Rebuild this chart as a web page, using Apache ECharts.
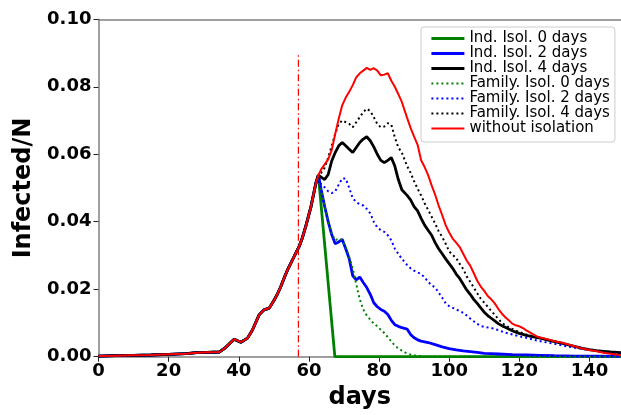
<!DOCTYPE html>
<html>
<head>
<meta charset="utf-8">
<script src="https://cdn.jsdelivr.net/npm/echarts@6/dist/echarts.min.js"></script>
<style>
  html, body { margin: 0; padding: 0; background: #fff; }
  #chart { width: 621px; height: 415px; }
</style>
</head>
<body>
<div id="chart"></div>
<script>
// Epidemic growth shared by every scenario until isolation takes effect (day, infected/N)
const sharedRise = [
  [0, 0.0002], [5, 0.0003], [10, 0.0004], [15, 0.0005], [20, 0.0007], [25, 0.0009],
  [28, 0.0012], [31, 0.0013], [34.5, 0.0014], [36, 0.0025], [37.7, 0.0042], [38.7, 0.0052],
  [40.6, 0.0043], [42.5, 0.0055], [43.9, 0.0079], [45, 0.0105], [45.8, 0.0124], [47.2, 0.0139],
  [48.7, 0.0144], [50.1, 0.0168], [51, 0.0185], [52, 0.0208], [53, 0.0235], [53.9, 0.0257],
  [55, 0.028], [55.8, 0.0297], [57.2, 0.0326], [58, 0.0348], [59.1, 0.0386], [60.6, 0.0445],
  [62, 0.0515], [62.7, 0.0538]
];

// Individual isolation after 0 days
const indIsol0 = [[67.4, 0], [149, 0]];

// Individual isolation after 2 days
const indIsol2 = [
  [63.5, 0.0495], [64.5, 0.0445], [65.5, 0.040], [66.5, 0.0362], [67.5, 0.0335], [68.5, 0.034],
  [69.5, 0.0348], [70.5, 0.032], [71.5, 0.029], [72.5, 0.024], [73.5, 0.0228], [74.5, 0.0236],
  [75.5, 0.022], [76.5, 0.0205], [77.5, 0.0185], [78.5, 0.016], [79.5, 0.0148], [80.5, 0.014],
  [81.5, 0.0135], [82.5, 0.0125], [83.5, 0.0108], [84.5, 0.0095], [85.5, 0.009], [86.5, 0.0086],
  [88, 0.0082], [89, 0.0066], [90, 0.0056], [91, 0.005], [92, 0.0046], [94, 0.0042], [96, 0.0036],
  [98, 0.0029], [100, 0.0024], [102, 0.002], [104, 0.0017], [106, 0.0015], [108, 0.0013],
  [110, 0.001], [112, 0.0009], [114, 0.0008], [118, 0.0006], [122, 0.0005], [126, 0.0004],
  [130, 0.0003], [136, 0.0002], [142, 0.0002], [149, 0.0001]
];

// Individual isolation after 4 days
const indIsol4 = [
  [63.5, 0.0532], [64.5, 0.0525], [65.5, 0.054], [66.5, 0.058], [67.5, 0.0605], [68.5, 0.0625],
  [69.5, 0.0635], [70.5, 0.0625], [71.5, 0.0615], [72.5, 0.0605], [73.5, 0.062], [74.5, 0.0635],
  [75.5, 0.0645], [76.5, 0.0652], [77.5, 0.064], [78.5, 0.0622], [79.5, 0.06], [80.5, 0.0582],
  [81.5, 0.0575], [82.5, 0.0582], [83.5, 0.059], [84.5, 0.0565], [85.5, 0.0525], [86.5, 0.0495],
  [88, 0.0478], [89, 0.0465], [90, 0.0445], [91, 0.0432], [92, 0.041], [93, 0.039], [94, 0.0375],
  [95, 0.036], [96, 0.0338], [97, 0.032], [98, 0.0305], [99, 0.029], [100, 0.0276], [101, 0.0262],
  [102, 0.0245], [103, 0.0232], [104, 0.0215], [105, 0.0198], [106, 0.0185], [107, 0.017],
  [108, 0.0158], [109, 0.0145], [110, 0.0132], [111, 0.0122], [112, 0.0114], [113, 0.0106],
  [114, 0.0098], [115, 0.0092], [116, 0.0087], [117, 0.0082], [118, 0.0077], [119, 0.0073],
  [120, 0.0069], [122, 0.0063], [124, 0.0059], [126, 0.0055], [128, 0.005], [130, 0.0045],
  [132, 0.004], [134, 0.0035], [136, 0.003], [138, 0.0025], [140, 0.0021], [142, 0.0018],
  [144, 0.0016], [146, 0.0014], [149, 0.0012]
];

// Family isolation after 0 days
const famIsol0 = [
  [63.5, 0.0495], [64.5, 0.0445], [65.5, 0.040], [66.5, 0.0365], [67.5, 0.0345], [68.5, 0.035],
  [69.5, 0.0346], [70.5, 0.0325], [71.5, 0.0295], [72.5, 0.0262], [73.5, 0.0215], [74.5, 0.017],
  [75.5, 0.014], [76.5, 0.0122], [77.5, 0.011], [78.5, 0.0098], [79.5, 0.009], [80.5, 0.008],
  [81.5, 0.007], [82.5, 0.0058], [83.5, 0.0045], [84.5, 0.0033], [85.5, 0.0025], [86.5, 0.0018],
  [87.5, 0.0012], [88.5, 0.0008], [89.5, 0.0005], [90.5, 0.0003], [92, 0.0001], [93, 0], [149, 0]
];

// Family isolation after 2 days
const famIsol2 = [
  [63.5, 0.051], [64.5, 0.0502], [65.5, 0.049], [66.5, 0.0485], [67.5, 0.049], [68.5, 0.051],
  [69.5, 0.0528], [70.5, 0.0528], [71.5, 0.050], [72.5, 0.047], [73.5, 0.0458], [74.5, 0.0452],
  [75.5, 0.0448], [76.5, 0.0438], [77.5, 0.0425], [78.5, 0.040], [79.5, 0.0383], [80.5, 0.0375],
  [81.5, 0.037], [82.5, 0.036], [83.5, 0.0345], [84.5, 0.032], [85.5, 0.0305], [86.5, 0.029],
  [88, 0.0272], [89, 0.0262], [90, 0.0255], [91, 0.025], [92, 0.0245], [93, 0.0235], [94, 0.0222],
  [95, 0.0212], [96, 0.0205], [97, 0.019], [98, 0.0175], [99, 0.0158], [100, 0.015], [101, 0.0145],
  [102, 0.014], [103, 0.0135], [104, 0.013], [105, 0.0122], [106, 0.0113], [107, 0.0105],
  [108, 0.0097], [109, 0.0091], [110, 0.0088], [112, 0.0085], [114, 0.0079], [116, 0.0071],
  [118, 0.0066], [120, 0.006], [122, 0.0056], [125, 0.0048], [128, 0.0042], [130, 0.0038],
  [132, 0.0034], [135, 0.0028], [138, 0.0023], [140, 0.002], [143, 0.0015], [146, 0.0011],
  [149, 0.0009]
];

// Family isolation after 4 days
const famIsol4 = [
  [63.5, 0.0545], [64.5, 0.056], [65.5, 0.059], [66.5, 0.0625], [67.5, 0.066], [68.5, 0.069],
  [69.5, 0.070], [70.5, 0.0695], [71.5, 0.069], [72.5, 0.068], [73.5, 0.0695], [74.5, 0.071],
  [75.5, 0.0725], [76.5, 0.0735], [77.5, 0.0728], [78.5, 0.071], [79.5, 0.069], [80.5, 0.068],
  [81.5, 0.0682], [82.5, 0.0692], [83.5, 0.0688], [84.5, 0.065], [85.5, 0.062], [86.5, 0.0605],
  [88, 0.0565], [89, 0.0545], [90, 0.052], [91, 0.0498], [92, 0.0478], [93, 0.0455], [94, 0.0435],
  [95, 0.0415], [96, 0.0395], [97, 0.0372], [98, 0.0355], [99, 0.0335], [100, 0.0312],
  [101, 0.0302], [102, 0.0292], [103, 0.0275], [104, 0.026], [105, 0.0238], [106, 0.0222],
  [107, 0.0205], [108, 0.0188], [109, 0.0172], [110, 0.016], [111, 0.0148], [112, 0.0136],
  [113, 0.0124], [114, 0.0112], [115, 0.0101], [116, 0.0093], [117, 0.0087], [118, 0.0082],
  [120, 0.0073], [122, 0.0066], [124, 0.006], [126, 0.0055], [128, 0.005], [130, 0.0045],
  [132, 0.004], [134, 0.0035], [136, 0.003], [138, 0.0024], [140, 0.002], [142, 0.0016],
  [144, 0.0013], [146, 0.0011], [149, 0.0009]
];

// No isolation at all
const noIsol = [
  [63.5, 0.0555], [64.5, 0.057], [65.5, 0.0585], [66.5, 0.0612], [67.5, 0.066], [68.5, 0.0705],
  [69.5, 0.0745], [70.5, 0.0768], [71.5, 0.0785], [72.5, 0.0805], [73.5, 0.0828], [74.5, 0.084],
  [75.5, 0.0848], [76.5, 0.0856], [77.5, 0.085], [78.5, 0.0855], [79.5, 0.0848], [80.5, 0.0834],
  [81.5, 0.0836], [82.5, 0.084], [83.5, 0.0818], [84.5, 0.080], [85.5, 0.0778], [86.5, 0.0755],
  [88, 0.0708], [89, 0.0678], [90, 0.0652], [91, 0.0628], [92, 0.0582], [93, 0.0562],
  [94, 0.0538], [95, 0.0508], [96, 0.048], [97, 0.0448], [98, 0.042], [99, 0.039], [100, 0.0368],
  [101, 0.035], [102, 0.0338], [103, 0.0325], [104, 0.0305], [105, 0.0285], [106, 0.027],
  [107, 0.0248], [108, 0.0225], [109, 0.0208], [110, 0.0195], [111, 0.018], [112, 0.017],
  [113, 0.0158], [114, 0.0142], [115, 0.0128], [116, 0.0117], [117, 0.0108], [118, 0.0098],
  [119, 0.0093], [120, 0.009], [121, 0.0085], [122, 0.0078], [123, 0.0072], [124, 0.0066],
  [125, 0.006], [126, 0.0057], [128, 0.0052], [130, 0.0046], [132, 0.0042], [134, 0.0036],
  [136, 0.003], [138, 0.0024], [140, 0.002], [142, 0.0016], [144, 0.0012], [146, 0.0009],
  [148, 0.0006], [149, 0.0005]
];

// Day isolation measures begin, and the height of its marker
const isolationDay = [[57, 0], [57, 0.09]];

const FONT = 'DejaVu Sans';

function curve(name, tail, color, width, dotted) {
  return {
    name: name,
    type: 'line',
    data: sharedRise.concat(tail),
    symbol: 'none',
    smooth: false,
    animation: false,
    lineStyle: { color: color, width: width, type: dotted ? [2, 3] : 'solid' },
    itemStyle: { color: color }
  };
}

const series = [
  {
    name: 'start',
    type: 'line',
    data: isolationDay,
    symbol: 'none',
    animation: false,
    lineStyle: { color: '#ff0000', width: 1.2, type: [7, 3, 1.5, 3] },
    z: 1
  },
  curve('Ind. Isol. 0 days', indIsol0, '#008000', 2.8, false),
  curve('Ind. Isol. 2 days', indIsol2, '#0000ff', 2.8, false),
  curve('Ind. Isol. 4 days', indIsol4, '#000000', 2.8, false),
  curve('Family. Isol. 0 days', famIsol0, '#008000', 2, true),
  curve('Family. Isol. 2 days', famIsol2, '#0000ff', 2, true),
  curve('Family. Isol. 4 days', famIsol4, '#000000', 2, true),
  curve('without isolation', noIsol, '#ff0000', 2, false)
];

const chart = echarts.init(document.getElementById('chart'), null, { renderer: 'canvas' });
chart.setOption({
  animation: false,
  backgroundColor: '#ffffff',
  grid: {
    left: 98.5, right: 0, top: 19.3, bottom: 58.3,
    containLabel: false, outerBoundsMode: 'none'
  },
  legend: {
    data: series.slice(1).map(s => s.name),
    orient: 'vertical',
    left: 421,
    top: 27,
    padding: [4, 5, 6, 9],
    itemWidth: 33,
    itemHeight: 14,
    itemGap: 0,
    backgroundColor: '#ffffff',
    borderColor: '#cccccc',
    borderWidth: 1,
    borderRadius: 3,
    itemStyle: { opacity: 0 },
    lineStyle: { width: 'inherit' },
    textStyle: { fontFamily: FONT, fontSize: 15, color: '#000', lineHeight: 15 }
  },
  xAxis: [
    {
      type: 'value',
      min: 0,
      max: 149,
      interval: 20,
      name: 'days',
      nameLocation: 'middle',
      nameGap: 27,
      nameTextStyle: { fontFamily: FONT, fontSize: 24, fontWeight: 'bold', color: '#000' },
      axisLine: { show: true, lineStyle: { color: '#808080', width: 1.5 } },
      axisTick: { show: true, inside: false, length: 5, lineStyle: { color: '#222', width: 1 } },
      axisLabel: {
        fontFamily: FONT, fontSize: 18, fontWeight: 'bold', color: '#000', margin: 6,
        formatter: v => (v % 20 === 0 ? String(v) : '')
      },
      splitLine: { show: false }
    },
    {
      type: 'value',
      position: 'top',
      min: 0,
      max: 149,
      axisLine: { show: true, lineStyle: { color: '#808080', width: 1.5 } },
      axisTick: { show: false },
      axisLabel: { show: false },
      splitLine: { show: false }
    }
  ],
  yAxis: {
    type: 'value',
    min: 0,
    max: 0.1,
    interval: 0.02,
    name: 'Infected/N',
    nameLocation: 'middle',
    nameGap: 57,
    nameRotate: 90,
    nameTextStyle: { fontFamily: FONT, fontSize: 24, fontWeight: 'bold', color: '#000' },
    axisLine: { show: true, lineStyle: { color: '#808080', width: 1.5 } },
    axisTick: { show: true, inside: false, length: 5, lineStyle: { color: '#222', width: 1 } },
    axisLabel: {
      fontFamily: FONT, fontSize: 18, fontWeight: 'bold', color: '#000', margin: 7,
      formatter: v => v.toFixed(2)
    },
    splitLine: { show: false }
  },
  series: series
});
</script>
</body>
</html>
